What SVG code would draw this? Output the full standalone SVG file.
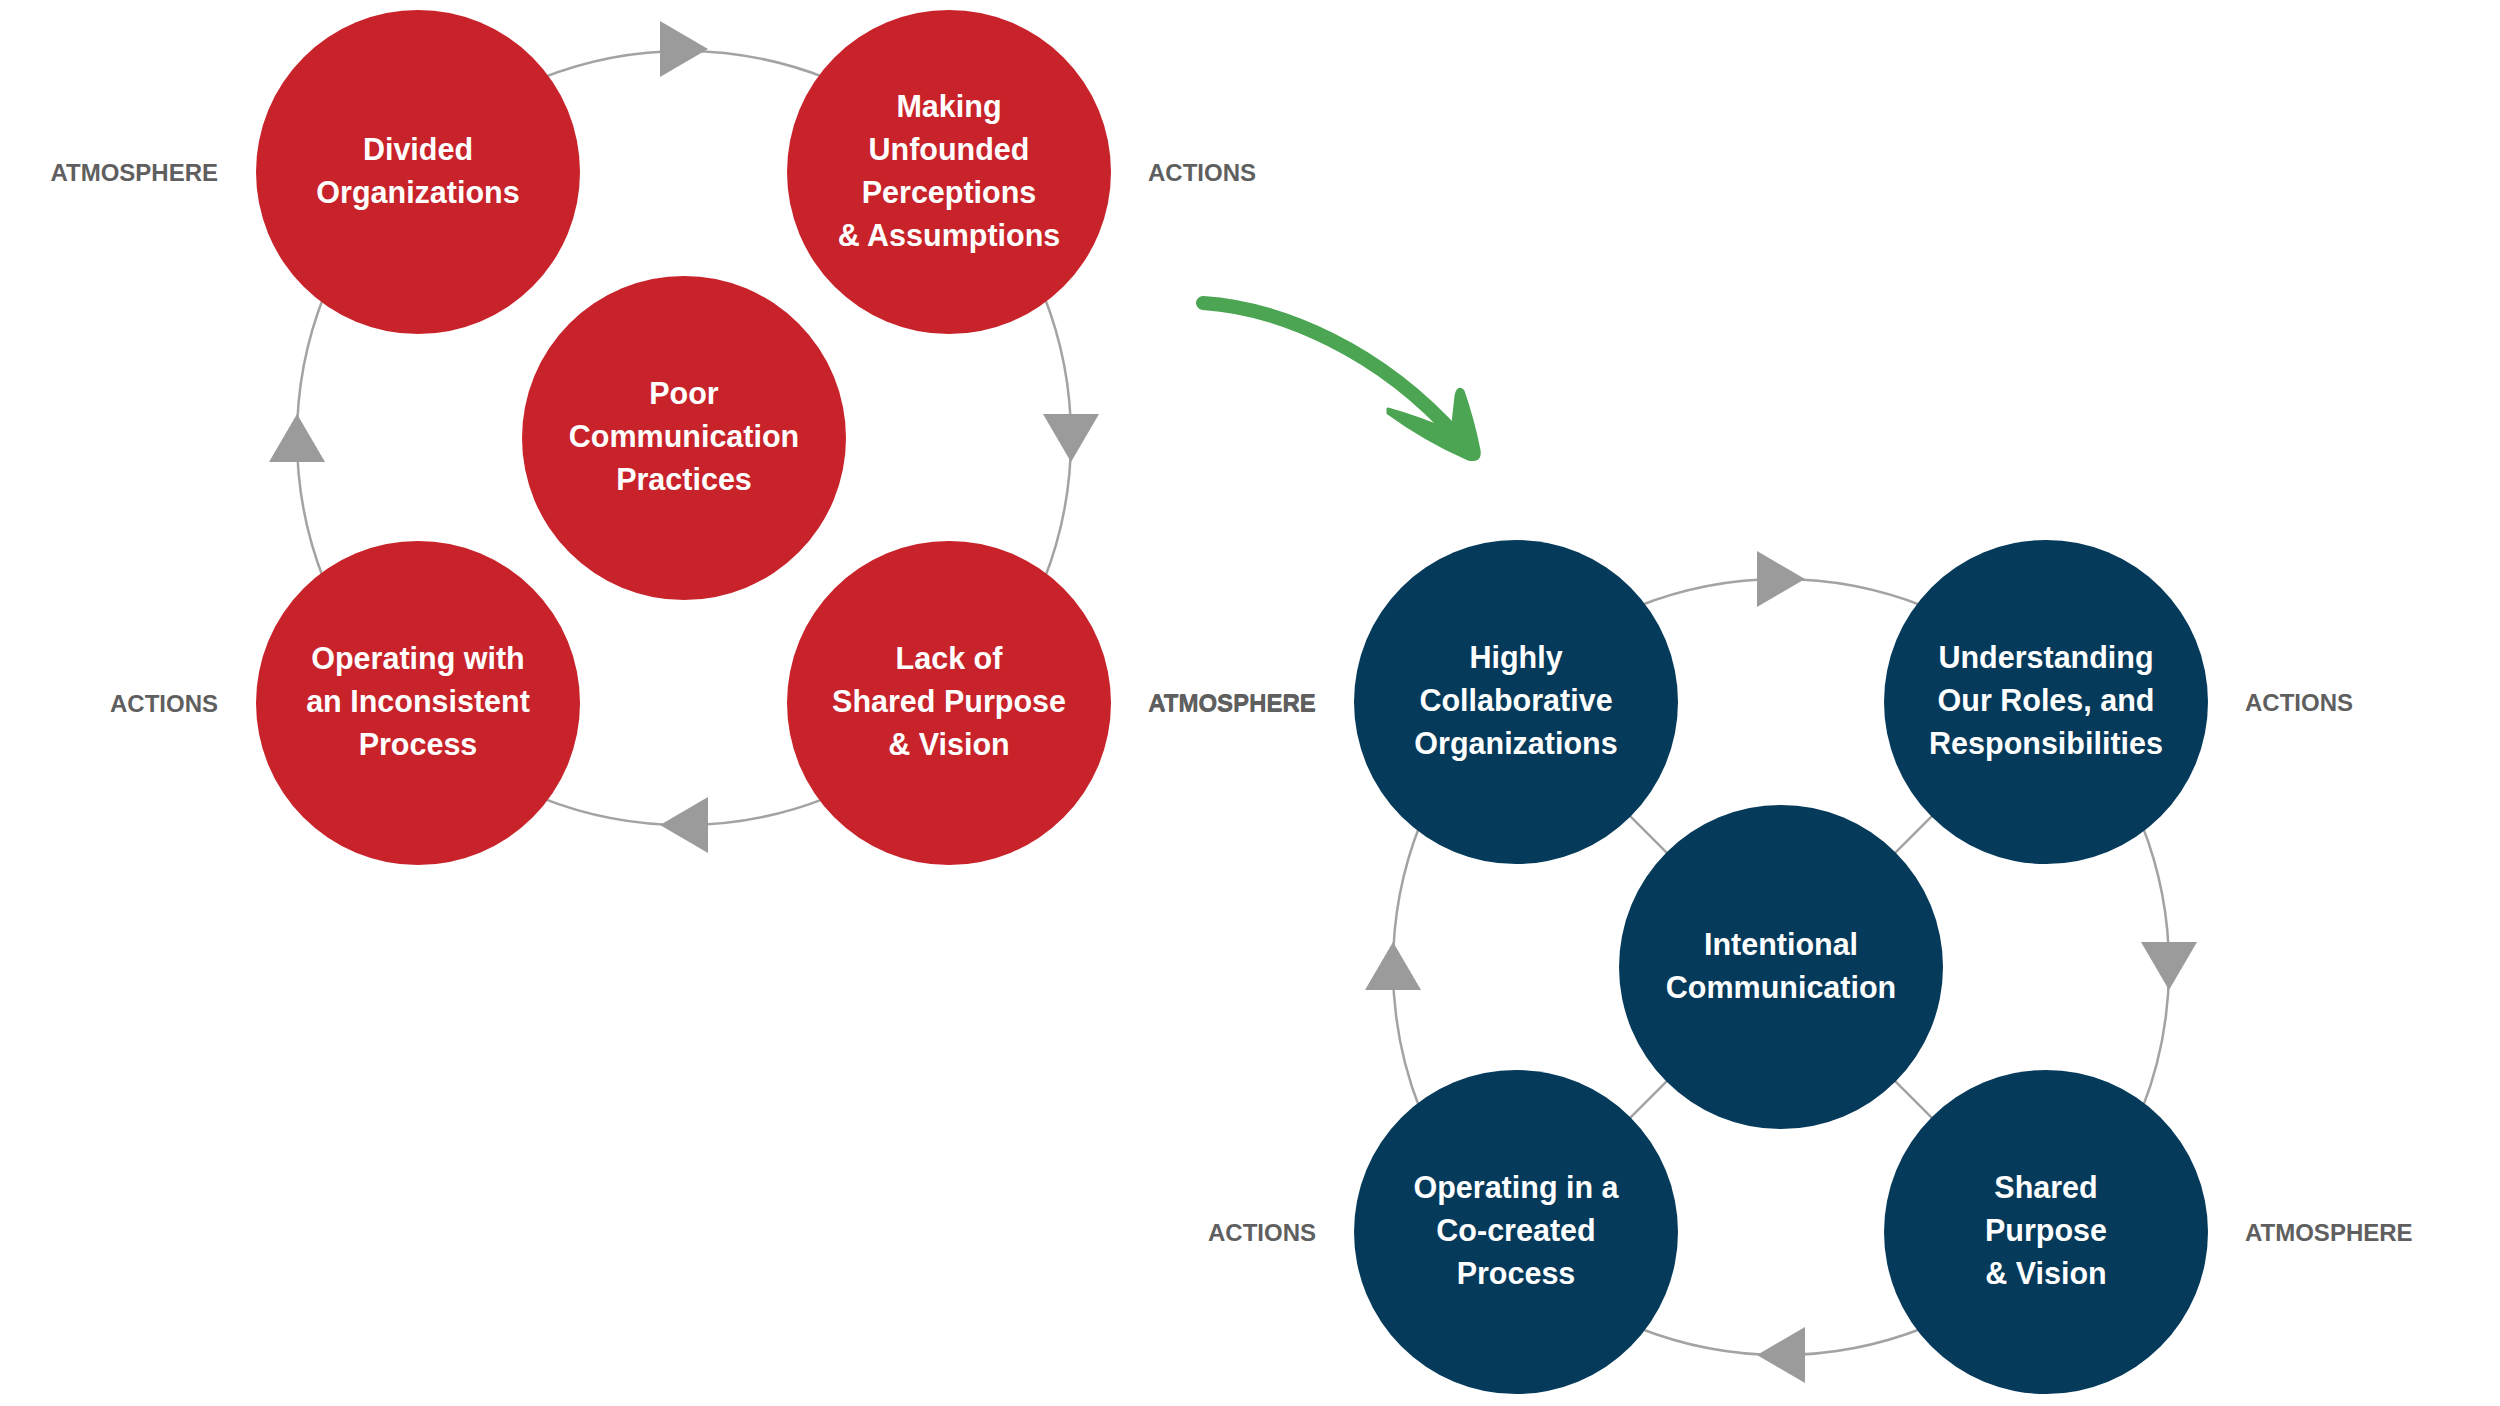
<svg xmlns="http://www.w3.org/2000/svg" xmlns:xlink="http://www.w3.org/1999/xlink" width="2500" height="1406" viewBox="0 0 2500 1406">
<style>
.bg{fill:#ffffff}
.ring{fill:none;stroke:#a3a3a3;stroke-width:2.5}
.spoke{stroke:#a3a3a3;stroke-width:2.5}
.tri{fill:#9b9b9b}
.red{fill:#c8232a}
.blue{fill:#053a5b}
.nt{font-family:"Liberation Sans",Arial,sans-serif;font-weight:bold;font-size:30.5px;fill:#ffffff;text-anchor:middle}
.lbl{font-family:"Liberation Sans",Arial,sans-serif;font-weight:bold;font-size:24px;fill:#5f5f5f}
.end{text-anchor:end}
.green{fill:none;stroke:#4ca553;stroke-width:14;stroke-linecap:round}
.greenf{fill:#4ca553;stroke:#4ca553;stroke-width:3;stroke-linejoin:round}
</style>
<defs>
<polygon id="tri" points="-24,-28 -24,28 24,0"/>
</defs>
<rect class="bg" x="0" y="0" width="2500" height="1406"/>

<g id="connectors">
  <circle class="ring" cx="684" cy="438" r="387"/>
  <circle class="ring" cx="1781" cy="967" r="388"/>
  <line class="spoke" x1="1516" y1="702" x2="2046" y2="1232"/>
  <line class="spoke" x1="2046" y1="702" x2="1516" y2="1232"/>
  <use href="#tri" class="tri" transform="translate(684,49)"/>
  <use href="#tri" class="tri" transform="translate(1071,438) rotate(90)"/>
  <use href="#tri" class="tri" transform="translate(684,825) rotate(180)"/>
  <use href="#tri" class="tri" transform="translate(297,438) rotate(-90)"/>
  <use href="#tri" class="tri" transform="translate(1781,579)"/>
  <use href="#tri" class="tri" transform="translate(2169,966) rotate(90)"/>
  <use href="#tri" class="tri" transform="translate(1781,1355) rotate(180)"/>
  <use href="#tri" class="tri" transform="translate(1393,966) rotate(-90)"/>
  <g id="green-arrow">
    <path class="green" d="M1203,303 C1280,308 1380,350 1458,438"/>
    <path class="greenf" d="M1388,409 Q1420,418 1452,432 L1456,396 Q1458,386 1463,391 Q1473,420 1479,450 Q1481,462 1468,459 Q1425,440 1388,413 Z"/>
  </g>
</g>

<g id="n-divided">
  <circle class="red" cx="418" cy="172" r="162"/>
  <text class="nt" x="418" y="159.5">Divided</text>
  <text class="nt" x="418" y="202.5">Organizations</text>
</g>
<g id="n-making">
  <circle class="red" cx="949" cy="172" r="162"/>
  <text class="nt" x="949" y="116.5">Making</text>
  <text class="nt" x="949" y="159.5">Unfounded</text>
  <text class="nt" x="949" y="202.5">Perceptions</text>
  <text class="nt" x="949" y="245.5">&amp; Assumptions</text>
</g>
<g id="n-poor">
  <circle class="red" cx="684" cy="438" r="162"/>
  <text class="nt" x="684" y="404">Poor</text>
  <text class="nt" x="684" y="447">Communication</text>
  <text class="nt" x="684" y="490">Practices</text>
</g>
<g id="n-operating-with">
  <circle class="red" cx="418" cy="703" r="162"/>
  <text class="nt" x="418" y="669">Operating with</text>
  <text class="nt" x="418" y="712">an Inconsistent</text>
  <text class="nt" x="418" y="755">Process</text>
</g>
<g id="n-lack">
  <circle class="red" cx="949" cy="703" r="162"/>
  <text class="nt" x="949" y="669">Lack of</text>
  <text class="nt" x="949" y="712">Shared Purpose</text>
  <text class="nt" x="949" y="755">&amp; Vision</text>
</g>

<g id="n-highly">
  <circle class="blue" cx="1516" cy="702" r="162"/>
  <text class="nt" x="1516" y="668">Highly</text>
  <text class="nt" x="1516" y="711">Collaborative</text>
  <text class="nt" x="1516" y="754">Organizations</text>
</g>
<g id="n-understanding">
  <circle class="blue" cx="2046" cy="702" r="162"/>
  <text class="nt" x="2046" y="668">Understanding</text>
  <text class="nt" x="2046" y="711">Our Roles, and</text>
  <text class="nt" x="2046" y="754">Responsibilities</text>
</g>
<g id="n-intentional">
  <circle class="blue" cx="1781" cy="967" r="162"/>
  <text class="nt" x="1781" y="954.5">Intentional</text>
  <text class="nt" x="1781" y="997.5">Communication</text>
</g>
<g id="n-operating-in">
  <circle class="blue" cx="1516" cy="1232" r="162"/>
  <text class="nt" x="1516" y="1198">Operating in a</text>
  <text class="nt" x="1516" y="1241">Co-created</text>
  <text class="nt" x="1516" y="1284">Process</text>
</g>
<g id="n-shared">
  <circle class="blue" cx="2046" cy="1232" r="162"/>
  <text class="nt" x="2046" y="1198">Shared</text>
  <text class="nt" x="2046" y="1241">Purpose</text>
  <text class="nt" x="2046" y="1284">&amp; Vision</text>
</g>

<g id="labels">
  <text class="lbl end" x="218" y="181">ATMOSPHERE</text>
  <text class="lbl" x="1148" y="181">ACTIONS</text>
  <text class="lbl end" x="218" y="712">ACTIONS</text>
  <text class="lbl" x="1148" y="712">ATMOSPHERE</text>
  <text class="lbl end" x="1316" y="711">ATMOSPHERE</text>
  <text class="lbl" x="2245" y="711">ACTIONS</text>
  <text class="lbl end" x="1316" y="1241">ACTIONS</text>
  <text class="lbl" x="2245" y="1241">ATMOSPHERE</text>
</g>
</svg>
